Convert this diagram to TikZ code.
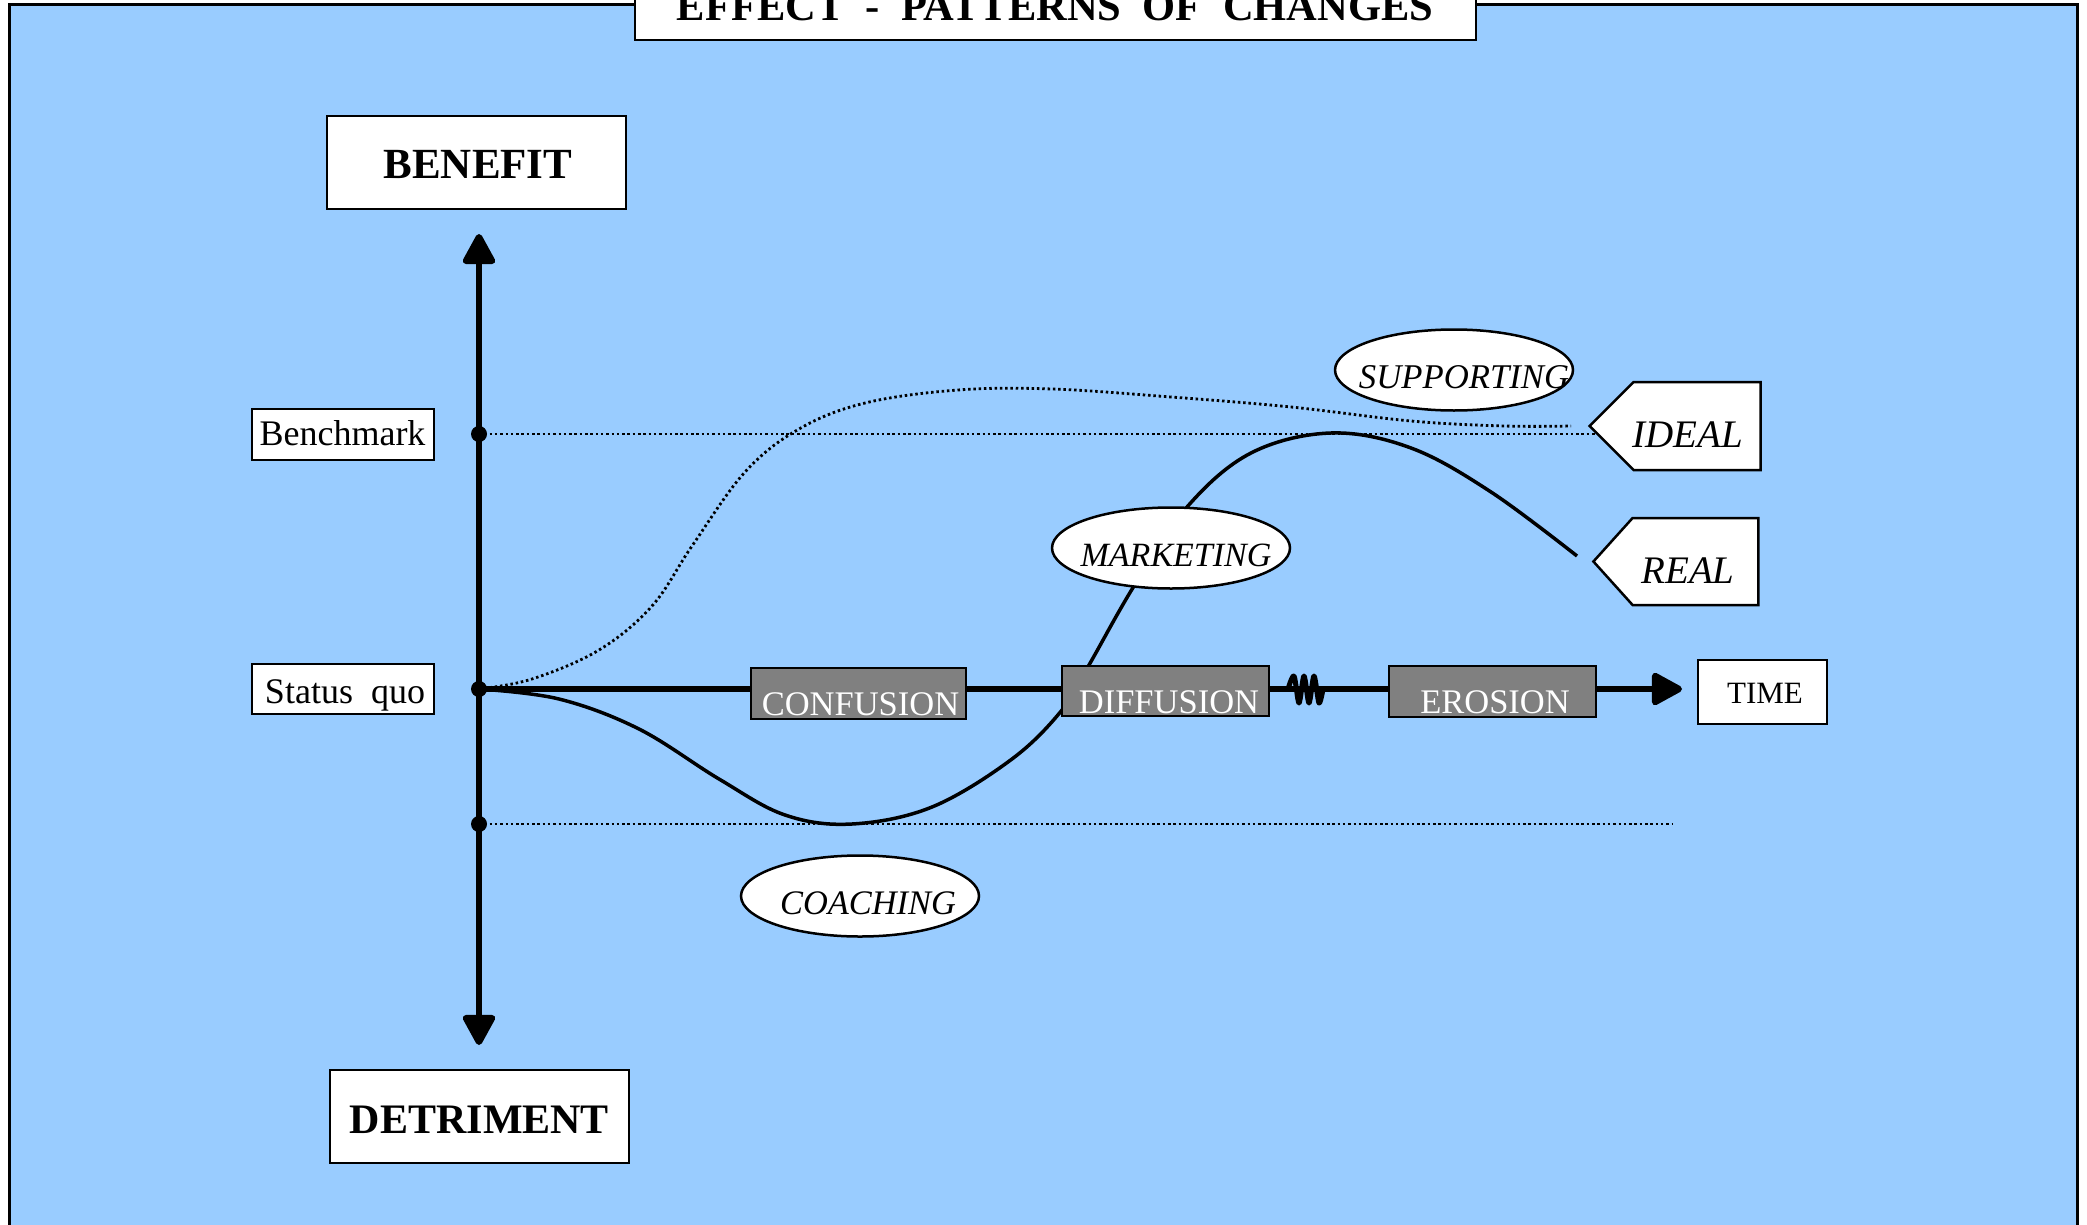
\documentclass[tikz,border=0pt]{standalone}
\usepackage{fontspec}
\setmainfont{Liberation Serif}
\usetikzlibrary{arrows.meta,shapes.geometric,shapes.symbols}
\definecolor{bgblue}{HTML}{99CCFF}
\definecolor{boxgray}{HTML}{808080}
\newcommand\fsz[1]{\fontsize{#1}{#1}\selectfont}
\begin{document}
\begin{tikzpicture}[x=1pt,y=-1pt,
  >={Triangle[width=35pt,length=34pt,round]},
  whitebox/.style={draw, fill=white, line width=2.5pt, inner sep=0pt},
  graybox/.style={draw, fill=boxgray, line width=2.5pt, inner sep=0pt},
  oval/.style={ellipse, draw, fill=white, line width=2.5pt, inner sep=0pt, minimum width=238pt, minimum height=81pt},
  tag/.style={signal, signal to=west, draw, fill=white, line width=2.5pt, inner sep=0pt},
  lbl/.style={inner sep=0pt, anchor=base},
  axisline/.style={line width=6.5pt},
  dotline/.style={line width=2.8pt, dash pattern=on 2.5pt off 2.8pt},
  curve/.style={line width=3.5pt},
  axdot/.style={circle, fill=black, inner sep=0pt, minimum size=16pt}
]
\clip (0,0) rectangle (2087,1225);
\useasboundingbox (0,0) rectangle (2087,1225);
\fill[white] (0,0) rectangle (2087,1225);
% frame
\draw[fill=bgblue, line width=3pt] (9,5) rectangle (2077,1260);
% title
\node[whitebox, minimum width=841pt, minimum height=100pt] (titlebox) at (1055.5,-10) {};
\node[lbl] (titletext) at (1055,21) {\fsz{42.5}\bfseries EFFECT\ \ -\ \ PATTERNS\ \ OF\ \ CHANGES};

% axis coordinates
\coordinate (O) at (479,689);
\coordinate (vtop) at (479,234);
\coordinate (vbot) at (479,1045);
\coordinate (htip) at (1682,689);
\coordinate (bm) at (479,434);
\coordinate (lo) at (479,824);
\coordinate (bmend) at (1600,434);
\coordinate (loend) at (1672,824);

% dotted reference lines
\draw[dotline] (bm) -- (bmend);
\draw[dotline] (lo) -- (loend);

% ideal (dotted) curve
\draw[dotline] plot[smooth, tension=0.6] coordinates {(479,689) (532,679) (599,650) (652,606) (692,546) (745,472) (799,429) (865,403) (958,390) (1052,389) (1171,397) (1291,407) (1411,421) (1504,426) (1571,426)};
% real curve
\draw[curve] plot[smooth, tension=0.6] coordinates {(479,689) (559,699) (639,729) (719,779) (785,815) (852,824) (932,807) (1012,759) (1062,710) (1089,665) (1134,586) (1187,507) (1251,453) (1331,433) (1411,448) (1491,492) (1577,556)};

% axes
\draw[axisline, <->] (vtop) -- (vbot);
\draw[axisline, ->] (O) -- (htip);
% spring
\draw[line width=5pt, line join=round, line cap=round] plot[smooth, tension=0.5] coordinates {(1288,689) (1294,676) (1299,703) (1304,676) (1309,703) (1314,676) (1319,703) (1323,689)};

% dots
\node[axdot] (dbm) at (bm) {};
\node[axdot] (dO) at (O) {};
\node[axdot] (dlo) at (lo) {};

% main boxes
\node[whitebox, minimum width=299pt, minimum height=93pt] (benefit) at (476.5,162.5) {};
\node[lbl] (benefittext) at (478,179) {\fsz{43}\bfseries BENEFIT};
\node[whitebox, minimum width=299pt, minimum height=93pt] (detriment) at (479.5,1116.5) {};
\node[lbl] (detrimenttext) at (479.5,1133) {\fsz{42}\bfseries DETRIMENT};

\node[whitebox, minimum width=182pt, minimum height=51pt] (benchmark) at (343,434.5) {};
\node[lbl] (benchmarktext) at (342.5,445) {\fsz{36}Benchmark};
\node[whitebox, minimum width=182pt, minimum height=50pt] (statusquo) at (343,689) {};
\node[lbl] (statusquotext) at (345,703) {\fsz{36}Status\ \ quo};

\node[graybox, minimum width=215pt, minimum height=51pt] (confusion) at (858.5,693.5) {};
\node[lbl, text=white] (confusiontext) at (860.5,715) {\fsz{34.5}CONFUSION};
\node[graybox, minimum width=207pt, minimum height=50pt] (diffusion) at (1165.5,691) {};
\node[lbl, text=white] (diffusiontext) at (1169,713) {\fsz{34.5}DIFFUSION};
\node[graybox, minimum width=207pt, minimum height=51pt] (erosion) at (1492.5,691.5) {};
\node[lbl, text=white] (erosiontext) at (1495,713) {\fsz{34.5}EROSION};

\node[whitebox, minimum width=129pt, minimum height=64pt] (time) at (1762.5,692) {};
\node[lbl] (timetext) at (1765,703) {\fsz{31}TIME};

% ovals
\node[oval] (supporting) at (1454,370) {};
\node[lbl] (supportingtext) at (1464,388) {\fsz{34.7}\itshape SUPPORTING};
\node[oval] (marketing) at (1171,548) {};
\node[lbl] (marketingtext) at (1176,566) {\fsz{34}\itshape MARKETING};
\node[oval] (coaching) at (860,896) {};
\node[lbl] (coachingtext) at (868,914) {\fsz{34.4}\itshape COACHING};

% tags
\node[tag, minimum width=171pt, minimum height=88pt, signal pointer angle=90] (ideal) at (1697,426) {};
\node[lbl] (idealtext) at (1688,447) {\fsz{39}\itshape IDEAL};
\node[tag, minimum width=165pt, minimum height=87pt, signal pointer angle=96] (real) at (1695.5,561.5) {};
\node[lbl] (realtext) at (1688,583) {\fsz{39}\itshape REAL};
\end{tikzpicture}
\end{document}
